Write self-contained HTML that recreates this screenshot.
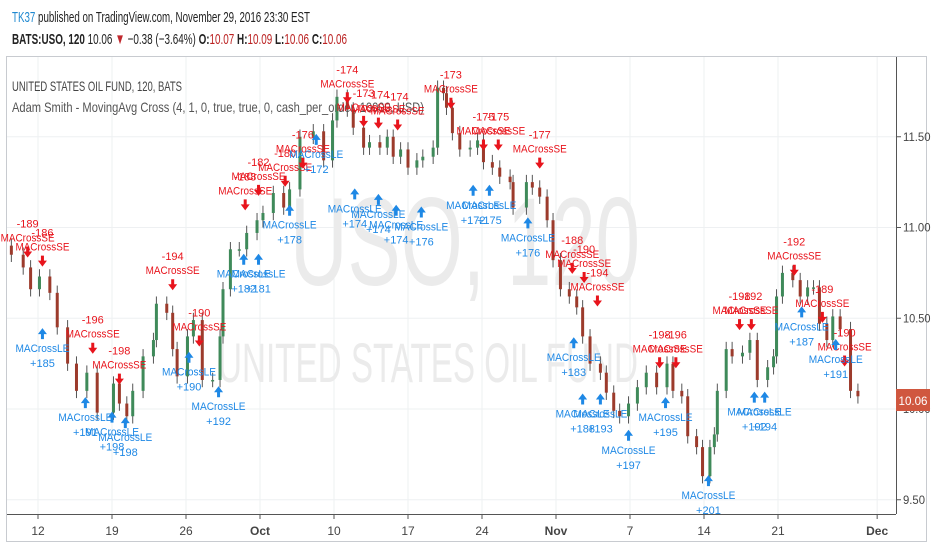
<!DOCTYPE html>
<html><head><meta charset="utf-8">
<style>
html,body{margin:0;padding:0;background:#fff;width:932px;height:550px;overflow:hidden;font-family:"Liberation Sans",sans-serif}
svg{position:absolute;left:0;top:0}
</style></head>
<body>
<svg id="c" width="932" height="550">
<rect x="0" y="0" width="932" height="550" fill="#fff"/>
<rect x="6.5" y="56.5" width="920" height="485" fill="#fff" stroke="#c8cbd0"/>
<text x="12" y="22" font-size="15" textLength="298" lengthAdjust="spacingAndGlyphs"><tspan fill="#1e88d0">TK37</tspan><tspan fill="#222"> published on TradingView.com, November 29, 2016 23:30 EST</tspan></text>
<text x="12" y="44" font-size="15" fill="#222" textLength="335" lengthAdjust="spacingAndGlyphs"><tspan font-weight="bold">BATS:USO, 120</tspan> 10.06 <tspan fill="#c0282d">▼</tspan> −0.38 (−3.64%) <tspan font-weight="bold">O:</tspan><tspan fill="#b22">10.07</tspan> <tspan font-weight="bold">H:</tspan><tspan fill="#b22">10.09</tspan> <tspan font-weight="bold">L:</tspan><tspan fill="#b22">10.06</tspan> <tspan font-weight="bold">C:</tspan><tspan fill="#b22">10.06</tspan></text>
<g id="grid"></g>
<text x="465" y="285" font-size="125" fill="#ebebeb" text-anchor="middle" textLength="350" lengthAdjust="spacingAndGlyphs">USO, 120</text>
<text x="428" y="382" font-size="56" fill="#ebebeb" text-anchor="middle" textLength="420" lengthAdjust="spacingAndGlyphs">UNITED STATES OIL FUND</text>
<text x="12" y="91" font-size="14" fill="#444" textLength="170" lengthAdjust="spacingAndGlyphs">UNITED STATES OIL FUND, 120, BATS</text>
<text x="12" y="112" font-size="14" fill="#555" textLength="412" lengthAdjust="spacingAndGlyphs">Adam Smith - MovingAvg Cross (4, 1, 0, true, true, 0, cash_per_order, 10000, USD)</text>
<g id="candles"></g>
<g id="signals"></g>
<line x1="896.5" y1="57" x2="896.5" y2="514" stroke="#555"/>
<line x1="7" y1="514.5" x2="896" y2="514.5" stroke="#555"/>
<g id="axes"></g>
<rect x="896" y="389" width="34" height="22" fill="#d0573f"/>
<text x="913" y="405" font-size="12" fill="#fff" text-anchor="middle" textLength="29" lengthAdjust="spacingAndGlyphs">10.06</text>
</svg>
<script>
// time in trading days since Sep 12, price in USD
const barTimes=[-1.8,-1.0,-0.5,0.1,0.8,1.3,2.0,2.6,3.3,4.0,5.1,5.5,6.0,6.4,7.1,7.8,8.0,8.7,9.1,9.4,10.1,10.5,11.1,11.8,12.3,12.5,13.0,13.6,14.1,14.8,15.2,15.9,16.6,17.0,
17.7,18.6,19.3,19.9,20.2,20.9,21.3,22.0,22.4,23.1,23.6,24.0,24.5,25.0,25.6,26.0,26.7,27.0,27.4,27.6,28.0,28.5,29.2,29.7,30.1,30.7,31.2,31.9,32.1,33.0,33.4,33.9,34.4,
34.8,35.3,35.9,36.4,36.8,37.3,38.0,38.4,38.9,39.3,39.9,40.5,41.1,41.8,42.5,42.9,43.5,
43.9,44.5,44.9,45.4,45.7,
45.9,46.5,46.9,47.6,48.1,48.6,49.3,49.7,49.9,50.3,51.0,51.5,52.0,52.4,52.8,53.3,53.7,54.2,54.9,55.4];
const barCloses=[10.85,10.78,10.66,10.73,10.64,10.45,10.25,10.10,10.20,9.98,10.14,10.03,9.96,10.10,10.29,10.38,10.58,10.53,10.33,10.18,10.40,10.49,10.16,10.16,10.40,10.66,10.88,10.88,10.97,11.04,11.08,11.19,11.11,11.21,
11.50,11.53,11.37,11.59,11.72,11.65,11.55,11.44,11.47,11.44,11.50,11.39,11.43,11.33,11.37,11.39,11.44,11.77,11.74,11.66,11.52,11.43,11.44,11.48,11.36,11.33,11.28,11.25,11.11,11.25,11.22,11.17,11.04,
10.82,10.66,10.62,10.56,10.40,10.25,10.20,10.09,9.99,9.96,10.03,10.12,10.20,10.12,10.25,10.10,10.07,
9.85,9.79,9.63,9.79,9.86,
10.10,10.33,10.29,10.31,10.38,10.16,10.23,10.29,10.62,10.75,10.71,10.62,10.67,10.67,10.47,10.38,10.51,10.44,10.10,10.07];
const seTimes=[-0.7,0.3,3.7,5.5,9.1,10.9,14.0,14.9,16.7,17.9,20.9,22.0,23.0,24.3,27.9,30.1,31.1,33.9,36.1,36.9,37.8,42.0,43.1,47.4,48.2,51.1,53.0,54.5];
const sePrices=[10.84,10.79,10.31,10.14,10.66,10.35,11.10,11.18,11.23,11.33,11.69,11.56,11.55,11.54,11.66,11.43,11.43,11.33,10.75,10.70,10.57,10.23,10.23,10.44,10.44,10.74,10.48,10.24];
const seValues=["-189","-186","-196","-198","-194","-190","-188","-182","-180","-176","-174","-173","-174","-174","-173","-175","-175","-177","-188","-190","-194","-198","-196","-198","-192","-192","-189","-190"];
const leTimes=[0.3,3.2,5.0,5.9,10.2,12.2,13.9,14.9,17.0,18.8,21.4,23.0,24.2,25.9,29.4,30.5,33.1,36.2,36.8,38.0,39.9,42.4,45.3,48.4,49.1,51.6,53.9];
const lePrices=[10.44,10.06,9.98,9.95,10.31,10.12,10.85,10.85,11.12,11.51,11.21,11.18,11.12,11.11,11.23,11.23,11.05,10.39,10.08,10.08,9.88,10.06,9.63,10.09,10.09,10.56,10.38];
const leValues=["+185","+191","+198","+198","+190","+192","+182","+181","+178","+172","+174","+174","+174","+176","+172","+175","+176","+183","+188","+193","+197","+195","+201","+192","+194","+187","+191"];
const priceTicks=[9.5,10.0,10.5,11.0,11.5];
const priceTickLabels=["9.50","10.00","10.50","11.00","11.50"];
const timeTicks=[0,5,10,15,20,25,30,35,40,45,50,56.7];
const timeTickLabels=["12","19","26","Oct","10","17","24","Nov","7","14","21","Dec"];

const NS="http://www.w3.org/2000/svg";
const X=t=>38+t*14.8;
const Y=p=>409-(p-10)*181.5;
function mk(tag,attrs,parent,txt){const e=document.createElementNS(NS,tag);for(const k in attrs)e.setAttribute(k,attrs[k]);if(txt!==undefined)e.textContent=txt;parent.appendChild(e);return e;}
const grid=document.getElementById('grid'),axes=document.getElementById('axes');
priceTicks.forEach((p,i)=>{
  let g=mk('line',{x1:7,x2:896,y1:Y(p),y2:Y(p),stroke:'#eef0f2'},grid);
  
  
  let tk=mk('line',{x1:896,x2:901,y1:Y(p),y2:Y(p),stroke:'#555'},axes);
  
  
  let t=mk('text',{x:903,y:Y(p)+4,'font-size':12,fill:'#444',textLength:priceTickLabels[i].length*5.5,lengthAdjust:'spacingAndGlyphs'},axes,priceTickLabels[i]);
  
  
});
timeTicks.forEach((d,i)=>{
  let g=mk('line',{x1:X(d),x2:X(d),y1:57,y2:514,stroke:'#eef0f2'},grid);
  
  
  let tk=mk('line',{x1:X(d),x2:X(d),y1:514,y2:519,stroke:'#555'},axes);
  
  
  let t=mk('text',{x:X(d),y:535,'font-size':12,fill:'#444','text-anchor':'middle','font-weight':isNaN(+timeTickLabels[i])?'bold':'normal'},axes,timeTickLabels[i]);
  
  
});
const cg=document.getElementById('candles');
barCloses.forEach((c,i)=>{
  const o=i>0?barCloses[i-1]:c+0.05;
  const hi=Math.max(o,c)+0.04,lo=Math.min(o,c)-0.04;
  const up=c>=o,x=X(barTimes[i]);
  const col=up?'#3f8a5a':'#9c3b2c';
  let w=mk('line',{x1:x,x2:x,y1:Y(hi),y2:Y(lo),stroke:'#555','stroke-width':1},cg);
  
  
  const y1=Y(Math.max(o,c)),y2=Y(Math.min(o,c));
  let b=mk('rect',{x:x-1.5,y:y1,width:3,height:Math.max(1.5,y2-y1),fill:col},cg);
  
  
});
const sg=document.getElementById('signals');
seTimes.forEach((t,i)=>{
  const x=X(t),y=Y(sePrices[i]);
  let a=mk('path',{d:`M${x-1.5},${y-10}h3v5h3l-4.5,6l-4.5,-6h3z`,fill:'#e8141c'},sg);
  
  
  let l=mk('text',{x:x,y:y-15,'font-size':11,fill:'#e8141c','text-anchor':'middle',textLength:54,lengthAdjust:'spacingAndGlyphs'},sg,'MACrossSE');
  
  
  let v=mk('text',{x:x,y:y-29,'font-size':11,fill:'#e8141c','text-anchor':'middle'},sg,seValues[i]);
  
  
});
leTimes.forEach((t,i)=>{
  const x=X(t),y=Y(lePrices[i]);
  let a=mk('path',{d:`M${x-1.5},${y+10}h3v-5h3l-4.5,-6l-4.5,6h3z`,fill:'#1e88e5'},sg);
  
  
  let l=mk('text',{x:x,y:y+23,'font-size':11,fill:'#1e88e5','text-anchor':'middle',textLength:54,lengthAdjust:'spacingAndGlyphs'},sg,'MACrossLE');
  
  
  let v=mk('text',{x:x,y:y+38,'font-size':11,fill:'#1e88e5','text-anchor':'middle'},sg,leValues[i]);
  
  
});
</script>
</body></html>
